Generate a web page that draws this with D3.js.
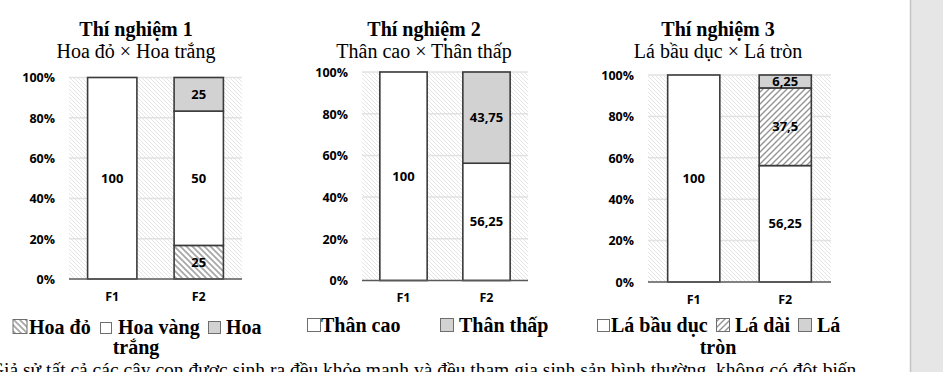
<!DOCTYPE html>
<html>
<head>
<meta charset="utf-8"/>
<title>Thí nghiệm 1-3</title>
<style>
    body { margin: 0; background: #fff; overflow: hidden; }
    svg { display: block; }
    .serif { font-family: "Liberation Serif", "Times New Roman", serif; fill: #000; }
    .num { font-family: "Open Sans", sans-serif; font-weight: 700; font-size: 12.5px; fill: #000; }
    .axis path { display: none; }
    .axis line { display: none; }
</style>
</head>
<body>
<div id="chart"></div>
<script src="https://cdn.jsdelivr.net/npm/d3@7"></script>
<script>

    // ---- data ----
    var generations = ["F1", "F2"];
    var yTicks = [0, 20, 40, 60, 80, 100];

    var exp1Title = "Thí nghiệm 1", exp1Sub = "Hoa đỏ × Hoa trắng";
    var exp1Series = ["Hoa đỏ", "Hoa vàng", "Hoa trắng"];
    var exp1F1 = [0, 100, 0];
    var exp1F2 = [16.67, 66.66, 16.67];      // heights as drawn in the picture
    var exp1LabelsF1 = ["", "100", ""];
    var exp1LabelsF2 = ["25", "50", "25"];

    var exp2Title = "Thí nghiệm 2", exp2Sub = "Thân cao × Thân thấp";
    var exp2Series = ["Thân cao", "Thân thấp"];
    var exp2F1 = [100, 0];
    var exp2F2 = [56.25, 43.75];
    var exp2LabelsF1 = ["100", ""];
    var exp2LabelsF2 = ["56,25", "43,75"];

    var exp3Title = "Thí nghiệm 3", exp3Sub = "Lá bầu dục × Lá tròn";
    var exp3Series = ["Lá bầu dục", "Lá dài", "Lá tròn"];
    var exp3F1 = [100, 0, 0];
    var exp3F2 = [56.25, 37.5, 6.25];
    var exp3LabelsF1 = ["100", "", ""];
    var exp3LabelsF2 = ["56,25", "37,5", "6,25"];

    var footnote = "Giả sử tất cả các cây con được sinh ra đều khỏe mạnh và đều tham gia sinh sản bình thường, không có đột biến.";

    // ---- svg ----
    var W = 943, H = 372;
    var svg = d3.select("#chart").append("svg")
        .attr("width", W)
        .attr("height", H);

    var defs = svg.append("defs");

    // light background hatch "\\\"
    defs.append("pattern")
        .attr("id", "bgHatch")
        .attr("patternUnits", "userSpaceOnUse")
        .attr("width", 4).attr("height", 4)
        .append("path")
        .attr("d", "M-1,-1 L5,5 M3,-1 L5,1 M-1,3 L1,5")
        .attr("stroke", "#dedede")
        .attr("stroke-width", 0.8);

    // darker "\\\" hatch
    var pb = defs.append("pattern")
        .attr("id", "darkBack")
        .attr("patternUnits", "userSpaceOnUse")
        .attr("width", 6).attr("height", 6);
    pb.append("rect").attr("width", 6).attr("height", 6).attr("fill", "#fff");
    pb.append("path")
        .attr("d", "M-1,-1 L7,7 M5,-1 L7,1 M-1,5 L1,7")
        .attr("stroke", "#a8a8a8")
        .attr("stroke-width", 1.8);

    // darker "///" hatch
    var pf = defs.append("pattern")
        .attr("id", "darkFwd")
        .attr("patternUnits", "userSpaceOnUse")
        .attr("width", 6).attr("height", 6);
    pf.append("rect").attr("width", 6).attr("height", 6).attr("fill", "#fff");
    pf.append("path")
        .attr("d", "M-1,7 L7,-1 M-1,1 L1,-1 M5,7 L7,5")
        .attr("stroke", "#949494")
        .attr("stroke-width", 1.4);

    var fills = {
        white: "#ffffff",
        gray: "#d2d2d2",
        back: "url(#darkBack)",
        fwd: "url(#darkFwd)"
    };

    // grey side panel on the right
    svg.append("rect")
        .attr("x", 910).attr("y", 0)
        .attr("width", W - 910).attr("height", H)
        .attr("fill", "#e6e6e6");
    svg.append("line")
        .attr("x1", 910.5).attr("x2", 910.5)
        .attr("y1", 0).attr("y2", H)
        .attr("stroke", "#c4c4c4")
        .attr("stroke-width", 1.5);

    var panels = [
        {
            title: exp1Title, sub: exp1Sub, series: exp1Series,
            values: [exp1F1, exp1F2], labels: [exp1LabelsF1, exp1LabelsF2],
            styles: ["back", "white", "gray"],
            cx: 136, x0: 69, x1: 242, yTop: 77.5, yBot: 279,
            legendY: 334,
            legend: [
                {style: "back", x: 12.5, size: 14, text: "Hoa đỏ", tx: 29},
                {style: "white", x: 100, size: 11, text: "Hoa vàng", tx: 118},
                {style: "gray", x: 208, size: 12, text: "Hoa", tx: 226}
            ],
            wrap: {text: "trắng", x: 136, y: 354}
        },
        {
            title: exp2Title, sub: exp2Sub, series: exp2Series,
            values: [exp2F1, exp2F2], labels: [exp2LabelsF1, exp2LabelsF2],
            styles: ["white", "gray"],
            cx: 424, x0: 362, x1: 528, yTop: 72, yBot: 280.5,
            legendY: 332,
            legend: [
                {style: "white", x: 307, size: 13, text: "Thân cao", tx: 321},
                {style: "gray", x: 440, size: 13, text: "Thân thấp", tx: 459}
            ],
            wrap: null
        },
        {
            title: exp3Title, sub: exp3Sub, series: exp3Series,
            values: [exp3F1, exp3F2], labels: [exp3LabelsF1, exp3LabelsF2],
            styles: ["white", "fwd", "gray"],
            cx: 718, x0: 648, x1: 831, yTop: 75, yBot: 282,
            legendY: 332,
            legend: [
                {style: "white", x: 597, size: 12, text: "Lá bầu dục", tx: 611},
                {style: "fwd", x: 716, size: 13, text: "Lá dài", tx: 735},
                {style: "gray", x: 798, size: 13, text: "Lá", tx: 817}
            ],
            wrap: {text: "tròn", x: 718, y: 354}
        }
    ];

    panels.forEach(drawPanel);

    // footnote, mostly cut off by the bottom edge (as in the source)
    svg.append("text")
        .attr("class", "serif")
        .attr("x", -10)
        .attr("y", 376)
        .style("font-size", "19.5px")
        .text(footnote);

    function drawPanel(p) {

        var g = svg.append("g");

        var x = d3.scaleBand()
            .domain(generations)
            .range([p.x0, p.x1])
            .paddingInner(0.43)
            .paddingOuter(0.215);

        var y = d3.scaleLinear()
            .domain([0, 100])
            .range([p.yBot, p.yTop]);

        // titles
        g.append("text")
            .attr("class", "serif")
            .attr("x", p.cx).attr("y", 36)
            .attr("text-anchor", "middle")
            .style("font-size", "20px")
            .style("font-weight", "bold")
            .text(p.title);

        g.append("text")
            .attr("class", "serif")
            .attr("x", p.cx).attr("y", 58)
            .attr("text-anchor", "middle")
            .style("font-size", "20px")
            .text(p.sub);

        // hatched plot area
        g.append("rect")
            .attr("x", p.x0).attr("y", p.yTop)
            .attr("width", p.x1 - p.x0)
            .attr("height", p.yBot - p.yTop)
            .attr("fill", "url(#bgHatch)");

        // gridlines
        g.selectAll("line.grid")
            .data(yTicks.slice(1))
            .enter()
            .append("line")
            .attr("class", "grid")
            .attr("x1", p.x0).attr("x2", p.x1)
            .attr("y1", d => y(d)).attr("y2", d => y(d))
            .attr("stroke", "#e2e2e2")
            .attr("stroke-width", 1.5);

        // y axis labels
        g.append("g")
            .attr("class", "axis num")
            .attr("transform", "translate(" + p.x0 + ",0)")
            .call(d3.axisLeft(y).tickValues(yTicks).tickSize(0).tickPadding(14)
                .tickFormat(d => d + "%"))
            .selectAll("text")
            .attr("class", "num")
            .attr("dy", "0.35em");

        // stacked bars
        var rows = generations.map((gen, i) => {
            var r = {gen: gen};
            p.series.forEach((s, j) => { r[s] = p.values[i][j]; });
            return r;
        });
        var stacked = d3.stack().keys(p.series)(rows);

        stacked.forEach((layer, j) => {
            layer.forEach((pt, i) => {
                if (pt[1] - pt[0] <= 0) return;
                g.append("rect")
                    .attr("x", x(generations[i]))
                    .attr("y", y(pt[1]))
                    .attr("width", x.bandwidth())
                    .attr("height", y(pt[0]) - y(pt[1]))
                    .attr("fill", fills[p.styles[j]])
                    .attr("stroke", "#3a3a3a")
                    .attr("stroke-width", 1.6);
                var lab = p.labels[i][j];
                if (lab) {
                    g.append("text")
                        .attr("class", "num")
                        .attr("x", x(generations[i]) + x.bandwidth() / 2)
                        .attr("y", y((pt[0] + pt[1]) / 2))
                        .attr("dy", "0.35em")
                        .attr("text-anchor", "middle")
                        .style("font-size", "13px")
                        .text(lab);
                }
            });
        });

        // baseline
        g.append("line")
            .attr("x1", p.x0).attr("x2", p.x1)
            .attr("y1", p.yBot).attr("y2", p.yBot)
            .attr("stroke", "#595959")
            .attr("stroke-width", 1.5);

        // x axis labels
        g.append("g")
            .attr("class", "axis")
            .attr("transform", "translate(0," + p.yBot + ")")
            .call(d3.axisBottom(x).tickSize(0).tickPadding(13))
            .selectAll("text")
            .attr("class", "num");

        // legend
        p.legend.forEach(it => {
            g.append("rect")
                .attr("x", it.x + 0.5)
                .attr("y", p.legendY - it.size - 0.5)
                .attr("width", it.size)
                .attr("height", it.size)
                .attr("fill", fills[it.style])
                .attr("stroke", "#6e6e6e")
                .attr("stroke-width", 1);
            g.append("text")
                .attr("class", "serif")
                .attr("x", it.tx).attr("y", p.legendY)
                .style("font-size", "20px")
                .style("font-weight", "bold")
                .text(it.text);
        });

        if (p.wrap) {
            g.append("text")
                .attr("class", "serif")
                .attr("x", p.wrap.x).attr("y", p.wrap.y)
                .attr("text-anchor", "middle")
                .style("font-size", "20px")
                .style("font-weight", "bold")
                .text(p.wrap.text);
        }
    }

</script>
</body>
</html>
